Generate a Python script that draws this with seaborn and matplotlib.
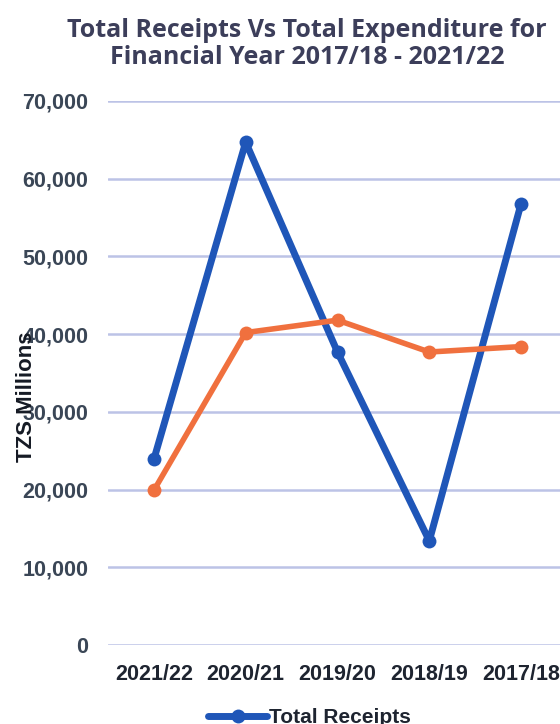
import matplotlib
matplotlib.use("Agg")
import matplotlib.pyplot as plt
import seaborn as sns
import pandas as pd

years = ["2021/22", "2020/21", "2019/20", "2018/19", "2017/18"]
receipts = [23900, 64700, 37700, 13400, 56800]
expenditure = [19900, 40200, 41800, 37700, 38400]
series_names = ["Total Receipts", "Total Expenditure"]
yticks = [0, 10000, 20000, 30000, 40000, 50000, 60000, 70000]

df = pd.DataFrame({
    "Year": years * 2,
    "Value": receipts + expenditure,
    "Series": [series_names[0]] * len(years) + [series_names[1]] * len(years),
})

sns.set_style("white")
plt.rcParams["font.family"] = ["DejaVu Sans"]

fig = plt.figure(figsize=(5.6, 7.24), dpi=100)
ax = fig.add_axes([108/560, 1 - 645/724, (567 - 108)/560, (645 - 101)/724])

palette = {series_names[0]: "#1f56b8", series_names[1]: "#f0703e"}
sns.lineplot(data=df, x="Year", y="Value", hue="Series", palette=palette,
             sort=False, marker="o", markersize=10, markeredgewidth=0,
             ax=ax, legend=True)
for line, lw in zip(ax.lines, [5, 4]):
    line.set_linewidth(lw)

ax.set_xlim(-0.5, len(years) - 0.5)
ax.set_ylim(0, 70000)
ax.set_yticks(yticks)
ax.set_yticklabels([f"{v:,}" for v in yticks])
ax.yaxis.grid(True, color="#bcc3e6", linewidth=1.8)
ax.set_axisbelow(True)
for s in ax.spines.values():
    s.set_visible(False)

narrow = ["Liberation Sans Narrow", "Liberation Sans", "DejaVu Sans"]
for lab in ax.get_yticklabels():
    lab.set_fontfamily(narrow)
    lab.set_fontsize(15.5)
    lab.set_fontweight("bold")
    lab.set_color("#3a4656")
for lab in ax.get_xticklabels():
    lab.set_fontfamily(narrow)
    lab.set_fontsize(15.5)
    lab.set_fontweight("bold")
    lab.set_color("#1e2430")
ax.tick_params(axis="y", length=0, pad=14)
ax.tick_params(axis="x", length=0, pad=14)

ax.set_xlabel("")
ax.set_ylabel("")
fig.text(27/560, 1 - 397/724, "TZS Millions", rotation=90, ha="center", va="center",
         fontsize=16, fontweight="bold", color="#151a24", family=narrow)

fig.text(307/560, 1 - 44/724, "Total Receipts Vs Total Expenditure for\nFinancial Year 2017/18 - 2021/22",
         ha="center", va="center", fontsize=18, fontweight="bold", color="#3c3e5a",
         linespacing=1.12, family=["Open Sans", "DejaVu Sans"])

leg = ax.legend(loc="upper left", bbox_to_anchor=(200/560, 1 - 700/724),
                bbox_transform=fig.transFigure, frameon=False, ncol=1,
                prop={"family": narrow, "weight": "bold", "size": 15},
                handlelength=2.8, handletextpad=0.1, borderaxespad=0)
for t in leg.get_texts():
    t.set_color("#1e2430")
for h in leg.get_lines():
    h.set_linewidth(5)
    h.set_markersize(10)

fig.savefig("out.png", dpi=100)
